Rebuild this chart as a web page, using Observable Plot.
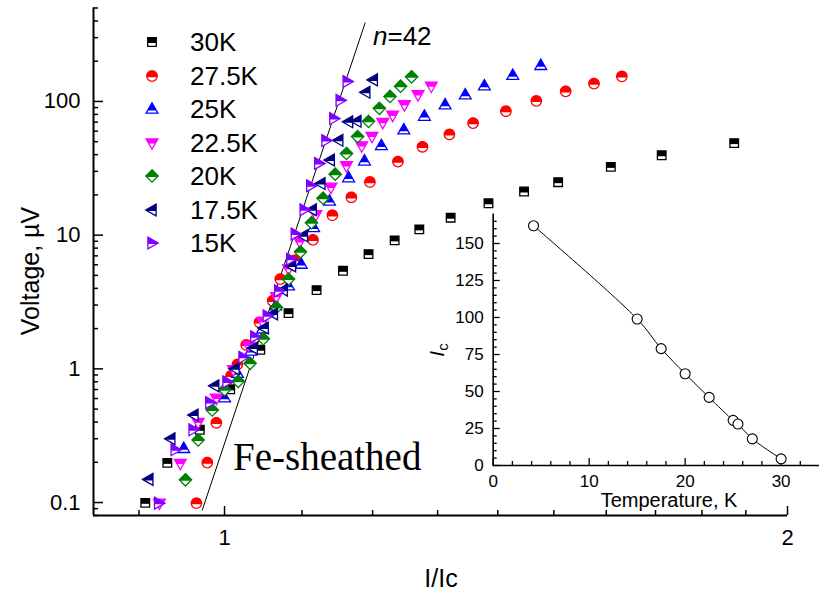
<!DOCTYPE html>
<html><head><meta charset="utf-8">
<script src="https://cdn.jsdelivr.net/npm/d3@7"></script>
<script src="https://cdn.jsdelivr.net/npm/@observablehq/plot@0.6"></script>
<style>
body{margin:0;background:#fff;}
#wrap{position:relative;width:821px;height:591px;overflow:hidden;font-family:"Liberation Sans",Arial,sans-serif;color:#000;background:#fff;}
.abs{position:absolute;white-space:nowrap;line-height:1;}
</style></head><body><div id="wrap"></div>
<script>
// ---------- data ----------
const seriesNames = ["30K","27.5K","25K","22.5K","20K","17.5K","15K"];
const seriesColors = ["#000000","#ff0000","#0000ff","#ff00ff","#008000","#000080","#8000ff"];

const i30 = [0.907,0.932,0.970,1.007,1.045,1.082,1.120,1.157,1.194,1.233,1.271,1.321,1.384,1.446,1.508,1.609,1.713,1.873];
const v30 = [0.0995,0.198,0.350,0.703,1.39,2.61,3.88,5.41,7.21,9.14,11.05,13.5,17.3,21.2,24.9,32.4,39.6,48.8];

const i275 = [0.966,0.979,0.990,1.008,1.016,1.027,1.044,1.061,1.071,1.091,1.115,1.142,1.169,1.196,1.238,1.276,1.319,1.358,1.414,1.468,1.522,1.576,1.631];
const v275 = [0.099,0.199,0.395,0.886,1.08,1.51,2.23,3.23,4.69,6.5,9.22,14.1,19.2,25.0,35.5,45.8,56.7,68.9,84.6,101,119,136,154];

const i25 = [0.951,1.000,1.016,1.033,1.048,1.065,1.082,1.099,1.116,1.138,1.165,1.188,1.213,1.247,1.279,1.312,1.345,1.377,1.426,1.476];
const v25 = [0.254,0.607,0.925,1.36,1.99,2.96,4.18,6.07,11.4,18.0,26.9,35.9,46.8,61.3,77.6,94.3,112,131,157,186];

const i225 = [0.923,0.947,0.968,0.990,1.011,1.030,1.048,1.066,1.082,1.097,1.119,1.140,1.162,1.184,1.199,1.215,1.230,1.248,1.269,1.290];
const v225 = [0.099,0.196,0.397,0.602,0.983,1.49,2.25,3.46,5.60,8.91,14.2,22.8,33.0,46.5,54.8,69.5,78.7,94.3,112,130];

const i20 = [0.953,0.968,0.985,1.000,1.017,1.032,1.049,1.066,1.082,1.098,1.113,1.129,1.146,1.162,1.178,1.194,1.210,1.226,1.242,1.259];
const v20 = [0.148,0.294,0.493,0.699,0.806,1.10,1.68,2.88,4.69,7.50,12.4,18.9,28.6,40.8,54.6,71.0,88.8,109,130,153];

const i175 = [0.911,0.936,0.963,0.988,1.013,1.036,1.050,1.062,1.075,1.086,1.102,1.114,1.126,1.139,1.151,1.165,1.177,1.190,1.201];
const v175 = [0.149,0.300,0.451,0.746,1.00,1.43,2.02,2.57,3.88,5.89,9.88,15.5,24.3,36.5,51.2,70.4,71.0,117,145];

const i15 = [0.922,0.941,0.962,0.982,1.003,1.023,1.038,1.054,1.069,1.085,1.091,1.103,1.112,1.123,1.133,1.144,1.153,1.163];
const v15 = [0.099,0.248,0.350,0.559,0.799,1.22,1.74,2.49,3.83,6.61,10.2,15.5,23.4,34.4,51.0,74.5,102,141];

// n = 42 power-law guide line (end points)
const fitI = [0.973, 1.189];
const fitV = [0.088, 387];

// inset: critical current vs temperature
const insetT  = [4.2, 15, 17.5, 20, 22.5, 25, 25.5, 27, 30];
const insetIc = [162, 99, 79, 62, 46, 30.5, 28, 18, 4.5];

// ticks
const yMajor = [0.1, 1, 10, 100];
const yMinor = [0.08,0.09,0.2,0.3,0.4,0.5,0.6,0.7,0.8,0.9,2,3,4,5,6,7,8,9,20,30,40,50,60,70,80,90,200,300,400,500];
const xMajor = [1, 2];
const xMinor = [0.9,1.1,1.2,1.3,1.4,1.5,1.6,1.7,1.8,1.9];
const tMajor = [0, 10, 20, 30];
const tMinor = [2,4,6,8,12,14,16,18,22,24,26,28,32];
const icMajor = [0, 25, 50, 75, 100, 125, 150];
const icMinor = [5,10,15,20,30,35,40,45,55,60,65,70,80,85,90,95,105,110,115,120,130,135,140,145,155,160,165];

// ---------- symbols (Origin-style half-filled markers) ----------
function circlePoly(r){ const p=[]; for(let k=0;k<32;k++){const a=2*Math.PI*k/32; p.push([r*Math.cos(a), r*Math.sin(a)]);} return p; }
const shapes = [
  {poly:[[-4.3,-4.3],[4.3,-4.3],[4.3,4.3],[-4.3,4.3]], cut:1.0},
  {poly:circlePoly(5.2), cut:1.2},
  {poly:[[0,-6.3],[5.9,4.1],[-5.9,4.1]], cut:1.4},
  {poly:[[-5.9,-4.1],[5.9,-4.1],[0,6.3]], cut:0.6},
  {poly:[[0,-6.2],[6.2,0],[0,6.2],[-6.2,0]], cut:1.0},
  {poly:[[-6.3,0],[4.1,-5.9],[4.1,5.9]], cut:1.0},
  {poly:[[6.3,0],[-4.1,-5.9],[-4.1,5.9]], cut:1.0}
];
function clipTop(pts, c){
  const out=[];
  for(let i=0;i<pts.length;i++){
    const a=pts[i], b=pts[(i+1)%pts.length];
    const ain=a[1]<=c, bin=b[1]<=c;
    if(ain) out.push(a);
    if(ain!==bin){ const t=(c-a[1])/(b[1]-a[1]); out.push([a[0]+t*(b[0]-a[0]), c]); }
  }
  return out;
}
function makeSym(shape, half){
  const pts = half ? clipTop(shape.poly, shape.cut) : shape.poly;
  return { draw(ctx, size){ const k=Math.sqrt(size/Math.PI);
    pts.forEach(([x,y],i)=> i ? ctx.lineTo(x*k,y*k) : ctx.moveTo(x*k,y*k)); ctx.closePath(); } };
}

const seriesI = [i30,i275,i25,i225,i20,i175,i15];
const seriesV = [v30,v275,v25,v225,v20,v175,v15];

const pointMarks = [];
seriesI.forEach((xs, s) => {
  const rows = xs.map((x, j) => ({I: x, V: seriesV[s][j]}));
  pointMarks.push(Plot.dot(rows, {x:"I", y:"V", r:1, symbol: makeSym(shapes[s], false), fill:"white", stroke: seriesColors[s], strokeWidth:1.3}));
  pointMarks.push(Plot.dot(rows, {x:"I", y:"V", r:1, symbol: makeSym(shapes[s], true), fill: seriesColors[s], stroke:"none"}));
});
const fitRows = fitI.map((x,j)=>({I:x, V:fitV[j]}));

const font = "'Liberation Sans', Arial, sans-serif";

const main = Plot.plot({
  width: 821, height: 591,
  marginLeft: 93, marginRight: 34, marginTop: 7.5, marginBottom: 76,
  x: {type:"log", domain:[0.851, 2], label:null},
  y: {type:"log", domain:[0.08, 500], label:null},
  style: {fontFamily: font, fontSize: "22px", color: "black", background: "white", overflow: "visible"},
  marks: [
    Plot.axisY({anchor:"left", ticks: yMajor, tickSize:-10, tickPadding:23, tickFormat: d => String(d), label:null, strokeWidth:1.5}),
    Plot.axisY({anchor:"left", ticks: yMinor, tickSize:-5, tickFormat: () => "", label:null, strokeWidth:1.5}),
    Plot.axisX({anchor:"bottom", ticks: xMajor, tickSize:-9, tickPadding:23, tickFormat: d => String(d), label:null, strokeWidth:1.5}),
    Plot.axisX({anchor:"bottom", ticks: xMinor, tickSize:-5, tickFormat: () => "", label:null, strokeWidth:1.5}),
    Plot.ruleX([0.851], {strokeWidth:2}),
    Plot.ruleY([0.08], {strokeWidth:2}),
    Plot.line(fitRows, {x:"I", y:"V", stroke:"black", strokeWidth:1}),
    ...pointMarks
  ]
});

const insetRows = insetT.map((t,j)=>({T:t, Ic:insetIc[j]}));
const inset = Plot.plot({
  width: 401, height: 330,
  marginLeft: 72.7, marginRight: 2, marginTop: 13.4, marginBottom: 65,
  x: {domain:[0, 34], label:null},
  y: {domain:[0, 170], label:null},
  style: {fontFamily: font, fontSize: "17px", color: "black", background: "transparent", overflow: "visible"},
  marks: [
    Plot.axisX({anchor:"bottom", ticks: tMajor, tickSize:-7, tickPadding:16, tickFormat: d => String(d), label:null, strokeWidth:1.3}),
    Plot.axisX({anchor:"bottom", ticks: tMinor, tickSize:-4, tickFormat: () => "", label:null, strokeWidth:1.3}),
    Plot.axisY({anchor:"left", ticks: icMajor, tickSize:-7, tickPadding:16.5, tickFormat: d => String(d), label:null, strokeWidth:1.3}),
    Plot.axisY({anchor:"left", ticks: icMinor, tickSize:-4, tickFormat: () => "", label:null, strokeWidth:1.3}),
    Plot.ruleX([0], {strokeWidth:1.6}),
    Plot.ruleY([0], {strokeWidth:1.6}),
    Plot.line(insetRows, {x:"T", y:"Ic", curve:"catmull-rom", stroke:"black", strokeWidth:1}),
    Plot.dot(insetRows, {x:"T", y:"Ic", r:5, fill:"white", stroke:"black", strokeWidth:1.1})
  ]
});

const wrap = document.getElementById("wrap");
main.style.position = "absolute"; main.style.left = "0px"; main.style.top = "0px";
wrap.appendChild(main);
inset.style.position = "absolute"; inset.style.left = "420px"; inset.style.top = "200px";
wrap.appendChild(inset);

function addText(html, css){ const d=document.createElement("div"); d.className="abs"; d.innerHTML=html; Object.assign(d.style, css); wrap.appendChild(d); return d; }

// legend
seriesNames.forEach((name, s) => {
  const cy = 42 + 33.5*s;
  const svg = d3.create("svg").attr("width",20).attr("height",20)
    .style("position","absolute").style("left",(151.7-10)+"px").style("top",(cy-10)+"px").style("overflow","visible");
  const p1 = d3.path(); makeSym(shapes[s], false).draw(p1, Math.PI);
  const p2 = d3.path(); makeSym(shapes[s], true).draw(p2, Math.PI);
  svg.append("path").attr("transform","translate(10,10)").attr("d", p1.toString()).attr("fill","white").attr("stroke", seriesColors[s]).attr("stroke-width",1.3);
  svg.append("path").attr("transform","translate(10,10)").attr("d", p2.toString()).attr("fill", seriesColors[s]);
  wrap.appendChild(svg.node());
  addText(name, {left:"190px", top:(cy-12.7)+"px", fontSize:"26px"});
});

// annotations
addText("<i>n</i>=42", {left:"373px", top:"23px", fontSize:"26px"});
addText("Fe-sheathed", {left:"233px", top:"437px", fontSize:"39px", fontFamily:"'Liberation Serif','Times New Roman',serif"});

// axis titles
addText("I/Ic", {left:"441px", top:"566px", fontSize:"25px", transform:"translateX(-50%)"});
addText("Voltage, &micro;V", {left:"30px", top:"271px", fontSize:"25px", transform:"translate(-50%,-50%) rotate(-90deg)"});
addText("Temperature, K", {left:"669px", top:"490px", fontSize:"20px", transform:"translateX(-50%)"});
addText("<i>I</i><sub style='font-size:15px;vertical-align:-4px'>c</sub>", {left:"438px", top:"350px", fontSize:"21px", transform:"translate(-50%,-50%) rotate(-90deg)"});
</script></body></html>
